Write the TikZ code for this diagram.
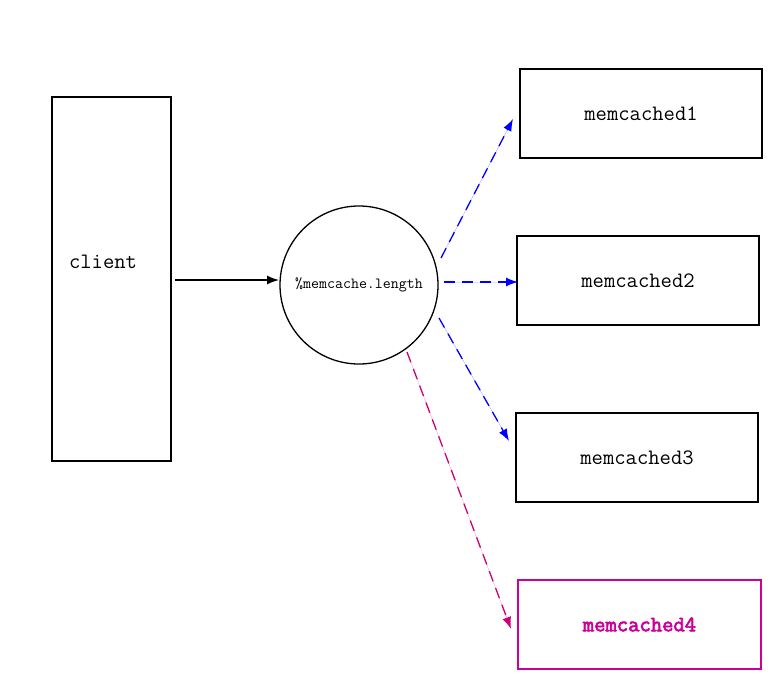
\documentclass[tikz,border=0pt]{standalone}
\usepackage{fontspec}
\newfontfamily\bmono[AutoFakeBold=3]{Latin Modern Mono}
\usetikzlibrary{arrows.meta}
\definecolor{mblue}{RGB}{0,0,255}
\definecolor{mline}{RGB}{204,0,119}
\definecolor{mbox}{RGB}{204,0,153}
\begin{document}
\begin{tikzpicture}[x=1pt,y=-1pt,
  box/.style={draw=black,line width=1.3pt,inner sep=0pt},
  lbl/.style={font=\ttfamily\fontsize{22}{24}\selectfont},
  arr/.style={-{Latex[length=12pt,width=9pt]}},
  dsh/.style={arr,dash pattern=on 11pt off 7pt,line width=1.3pt}]
\useasboundingbox (0,0) rectangle (783,693);
\node[box,minimum width=119pt,minimum height=364pt] (client) at (111.5,279) {};
\node[lbl] (clienttxt) at (103,262) {client};
\node[draw,circle,line width=1.3pt,minimum size=158pt,inner sep=0pt,
  font=\ttfamily\fontsize{15.5}{16}\selectfont] (hash) at (359,285) {\%memcache.length};
\node[box,minimum width=242pt,minimum height=89pt,lbl] (m1) at (641,113.5) {memcached1};
\node[box,minimum width=242pt,minimum height=89pt,lbl] (m2) at (638,280.5) {memcached2};
\node[box,minimum width=242pt,minimum height=89pt,lbl] (m3) at (637,457.5) {memcached3};
\node[box,draw=mbox,text=mbox,minimum width=243pt,minimum height=89pt,
  font=\bmono\bfseries\fontsize{22}{24}\selectfont] (m4) at (639.5,624.5) {memcached4};
\coordinate (c0) at (175,280);
\coordinate (c1) at (279,280);
\coordinate (a1) at (441,258);
\coordinate (b1) at (513,119);
\coordinate (a2) at (444,282);
\coordinate (b2) at (518,282);
\coordinate (a3) at (439,318);
\coordinate (b3) at (509,441);
\coordinate (a4) at (407,352);
\coordinate (b4) at (511,629);
\draw[arr,line width=1.3pt] (c0) -- (c1);
\draw[dsh,draw=mblue,fill=mblue] (a1) -- (b1);
\draw[dsh,draw=mblue,fill=mblue] (a2) -- (b2);
\draw[dsh,draw=mblue,fill=mblue] (a3) -- (b3);
\draw[dsh,draw=mline,fill=mline] (a4) -- (b4);
\end{tikzpicture}
\end{document}
